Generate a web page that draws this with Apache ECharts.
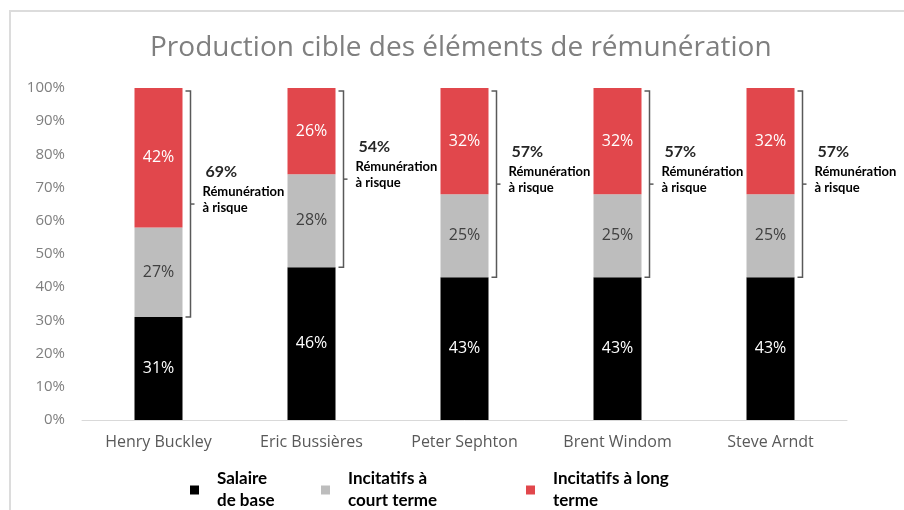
<!DOCTYPE html>
<html>
<head>
<meta charset="utf-8">
<script src="https://cdn.jsdelivr.net/npm/echarts@6/dist/echarts.min.js"></script>
<style>
  html, body { margin: 0; padding: 0; background: #fff; }
  #chart { width: 904px; height: 510px; }
</style>
</head>
<body>
<div id="chart"></div>
<script>
const categories = ['Henry Buckley', 'Eric Bussières', 'Peter Sephton', 'Brent Windom', 'Steve Arndt'];
const baseSalary = [31, 46, 43, 43, 43];
const shortTerm = [27, 28, 25, 25, 25];
const longTerm = [42, 26, 32, 32, 32];
const seriesNames = ['Salaire\nde base', 'Incitatifs à\ncourt terme', 'Incitatifs à long\nterme'];
const riskLabel = ['Rémunération', 'à risque'];

const FONT = 'Lato, "Open Sans", sans-serif';
const AXIS_FONT = '"Open Sans", Lato, sans-serif';
const RED = '#E1474C';
const GREY = '#BDBDBD';

// one row per person: x index, bottom of bracket, top of bracket, share at risk
const bracketData = categories.map((c, i) => [
  i, baseSalary[i], baseSalary[i] + shortTerm[i] + longTerm[i], shortTerm[i] + longTerm[i]
]);

function barLabel(color) {
  return {
    show: true,
    position: 'inside',
    formatter: '{c}%',
    color: color,
    fontFamily: AXIS_FONT,
    fontSize: 16
  };
}

function legendFor(name, left) {
  return {
    data: [name],
    left: left,
    top: 463,
    icon: 'rect',
    itemWidth: 9,
    itemHeight: 9,
    textStyle: {
      fontFamily: FONT,
      fontWeight: 'bold',
      fontSize: 17,
      lineHeight: 22,
      color: '#000',
      padding: [0, 0, 0, 13]
    }
  };
}

const chart = echarts.init(document.getElementById('chart'));
chart.setOption({
  animation: false,
  title: {
    text: 'Production cible des éléments de rémunération',
    left: 145,
    top: 29,
    textStyle: { fontFamily: AXIS_FONT, fontSize: 28, fontWeight: 'normal', color: '#7f7f7f' }
  },
  legend: [
    legendFor(seriesNames[0], 185),
    legendFor(seriesNames[1], 316),
    legendFor(seriesNames[2], 521)
  ],
  grid: { left: 82, right: 57, top: 88, bottom: 90 },
  xAxis: {
    type: 'category',
    data: categories,
    axisLine: { lineStyle: { color: '#d9d9d9', width: 1 } },
    axisTick: { show: false },
    axisLabel: { color: '#595959', fontFamily: AXIS_FONT, fontSize: 16, margin: 14 }
  },
  yAxis: {
    type: 'value',
    min: 0,
    max: 100,
    interval: 10,
    axisLine: { show: false },
    axisTick: { show: false },
    splitLine: { show: false },
    axisLabel: { formatter: '{value}%', color: '#7f7f7f', fontFamily: AXIS_FONT, fontSize: 15, margin: 17 }
  },
  graphic: [
    { type: 'line', shape: { x1: 9, y1: 11, x2: 904, y2: 11 }, style: { stroke: '#dcdcdc', lineWidth: 2 } },
    { type: 'line', shape: { x1: 10, y1: 11, x2: 10, y2: 510 }, style: { stroke: '#dcdcdc', lineWidth: 2 } }
  ],
  series: [
    {
      name: seriesNames[0], type: 'bar', stack: 'pay', barWidth: 48,
      itemStyle: { color: '#000' }, label: barLabel('#fff'), data: baseSalary
    },
    {
      name: seriesNames[1], type: 'bar', stack: 'pay', barWidth: 48,
      itemStyle: { color: GREY }, label: barLabel('#404040'), data: shortTerm
    },
    {
      name: seriesNames[2], type: 'bar', stack: 'pay', barWidth: 48,
      itemStyle: { color: RED }, label: barLabel('#fff'), data: longTerm
    },
    {
      type: 'custom',
      silent: true,
      encode: { x: 0, y: [1, 2] },
      data: bracketData,
      renderItem: function (params, api) {
        const top = api.coord([api.value(0), api.value(2)]);
        const bot = api.coord([api.value(0), api.value(1)]);
        const bx = top[0] + 32;
        const yT = top[1] + 3;
        const yB = bot[1];
        const yM = (yT + yB) / 2;
        const lineStyle = { stroke: '#595959', lineWidth: 1.5, fill: null };
        return {
          type: 'group',
          children: [
            { type: 'polyline', shape: { points: [[bx - 5, yT], [bx, yT], [bx, yB], [bx - 5, yB]] }, style: lineStyle },
            { type: 'line', shape: { x1: bx, y1: yM, x2: bx + 4, y2: yM }, style: lineStyle },
            { type: 'text', style: { text: api.value(3) + '%', x: bx + 15, y: yM - 32, verticalAlign: 'middle',
              font: 'bold 16px ' + FONT, fill: '#262626' } },
            { type: 'text', style: { text: riskLabel[0], x: bx + 12, y: yM - 12, verticalAlign: 'middle',
              font: 'bold 13px ' + FONT, fill: '#000' } },
            { type: 'text', style: { text: riskLabel[1], x: bx + 12, y: yM + 4, verticalAlign: 'middle',
              font: 'bold 13px ' + FONT, fill: '#000' } }
          ]
        };
      }
    }
  ]
});
</script>
</body>
</html>
